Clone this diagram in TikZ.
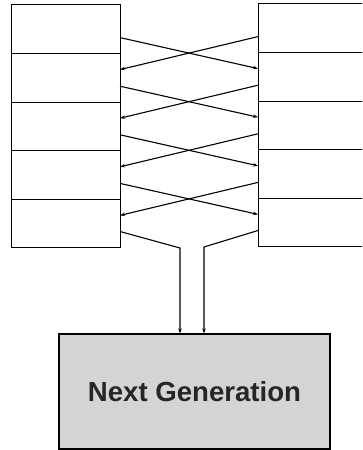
\documentclass[tikz,border=0pt]{standalone}
\usepackage{fontspec}
\setmainfont{Liberation Sans}
\usetikzlibrary{arrows.meta,calc}
\begin{document}
\begin{tikzpicture}[x=1pt,y=1pt,
  cell/.style={draw, line width=1pt, minimum width=109pt, minimum height=48.6pt, inner sep=0pt, outer sep=0pt},
  rcell/.style={cell, minimum width=106pt},
  link/.style={line width=1.1pt, -{Stealth[length=5pt,width=3.5pt]}},
  gen/.style={draw, line width=1.1pt, fill=black!17, minimum width=271pt, minimum height=115pt, inner sep=0pt,
    text=black!85, font=\bfseries\fontsize{27.6}{30}\selectfont}]
\clip (0,0) rectangle (362,450);
% left column
\node[cell] (L1) at (65.5,420.7) {};
\node[cell] (L2) at (65.5,372.1) {};
\node[cell] (L3) at (65.5,323.5) {};
\node[cell] (L4) at (65.5,274.9) {};
\node[cell] (L5) at (65.5,226.3) {};
% right column
\node[rcell] (R1) at (311,421.7) {};
\node[rcell] (R2) at (311,373.1) {};
\node[rcell] (R3) at (311,324.5) {};
\node[rcell] (R4) at (311,275.9) {};
\node[rcell] (R5) at (311,227.3) {};
% next generation
\node[gen] (G) at (194.5,58.5) {Next Generation};
% crossing links
\foreach \i/\j in {1/2,2/3,3/4,4/5}{
  \draw[link] ($(L\i.south east)+(0,16)$) -- ($(R\j.north west)+(0,-16)$);
  \draw[link] ($(R\i.south west)+(0,16)$) -- ($(L\j.north east)+(0,-16)$);
}
% merge into next generation
\coordinate (lbend) at (180,202);
\coordinate (rbend) at (204,203);
\draw[link] ($(L5.south east)+(0,16.5)$) -- (lbend) -- (lbend |- G.north);
\draw[link] ($(R5.south west)+(0,16.5)$) -- (rbend) -- (rbend |- G.north);
\end{tikzpicture}
\end{document}
